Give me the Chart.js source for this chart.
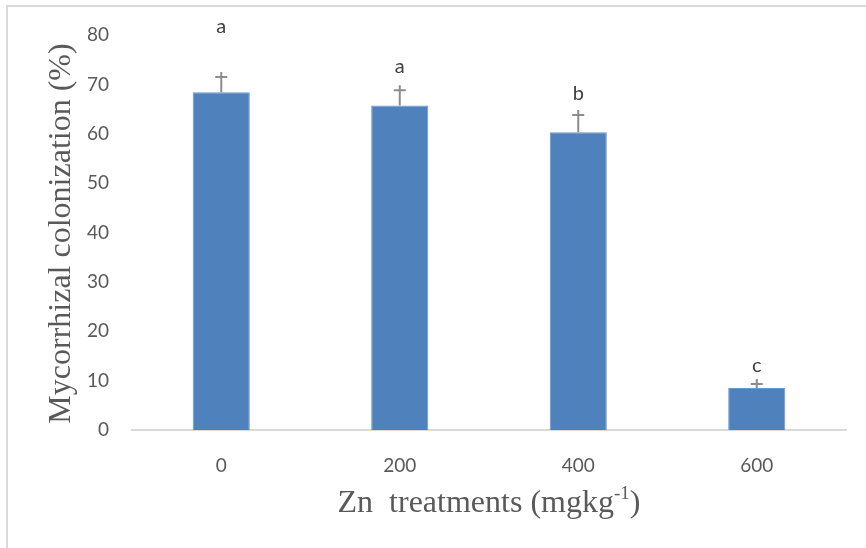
<!DOCTYPE html>
<html>
<head>
<meta charset="utf-8">
<script src="https://cdn.jsdelivr.net/npm/chart.js@4"></script>
<style>
  body { margin: 0; background: #fff; }
  #wrap { position: relative; width: 866px; height: 548px; }
</style>
</head>
<body>
<div id="wrap"><canvas id="chart"></canvas></div>
<script>
// Data
const treatments = ['0', '200', '400', '600'];
const colonization = [68.4, 65.7, 60.3, 8.5];   // bar heights (%)
const errorTop = [71.5, 68.8, 63.8, 9.3];       // upper error bar caps (%)
const letters = ['a', 'a', 'b', 'c'];           // significance letters
const letterLevel = [81.7, 73.6, 68.1, 13.0];   // where the letters sit (%)
const yMin = 0, yMax = 80, yStep = 10;

const TEXT = '#595959';

// light grey frame, only top and left edges visible in the reference
const framePlugin = {
    id: 'frame',
    beforeDraw(chart) {
        const ctx = chart.ctx;
        ctx.save();
        ctx.fillStyle = '#ffffff';
        ctx.fillRect(0, 0, chart.width, chart.height);
        ctx.strokeStyle = '#d9d9d9';
        ctx.lineWidth = 2;
        ctx.beginPath();
        ctx.moveTo(7, chart.height);
        ctx.lineTo(7, 6);
        ctx.lineTo(chart.width, 6);
        ctx.stroke();
        ctx.restore();
    }
};

// upper-only error bars plus letters
const errorPlugin = {
    id: 'errorBars',
    afterDatasetsDraw(chart) {
        const ctx = chart.ctx;
        const y = chart.scales.y;
        const meta = chart.getDatasetMeta(0);
        ctx.save();
        meta.data.forEach((bar, i) => {
            const top = y.getPixelForValue(colonization[i]);
            const cap = y.getPixelForValue(errorTop[i]);
            ctx.strokeStyle = '#8c8c8c';
            ctx.lineWidth = 2;
            ctx.beginPath();
            ctx.moveTo(bar.x, top);
            ctx.lineTo(bar.x, cap - 5);
            ctx.moveTo(bar.x - 6, cap);
            ctx.lineTo(bar.x + 6, cap);
            ctx.stroke();

            ctx.fillStyle = '#404040';
            ctx.font = '20px Lato';
            ctx.textAlign = 'center';
            ctx.textBaseline = 'middle';
            ctx.fillText(letters[i], bar.x, y.getPixelForValue(letterLevel[i]));
        });
        ctx.restore();
    }
};

// axis titles in a serif face, x title has a superscript
const titlePlugin = {
    id: 'titles',
    afterDraw(chart) {
        const ctx = chart.ctx;
        const area = chart.chartArea;
        ctx.save();
        ctx.fillStyle = TEXT;
        ctx.textBaseline = 'alphabetic';

        // y title
        ctx.save();
        ctx.translate(70, (area.top + area.bottom) / 2 + 1);
        ctx.rotate(-Math.PI / 2);
        ctx.font = '32px "Liberation Serif"';
        ctx.textAlign = 'center';
        ctx.fillText('Mycorrhizal colonization (%)', 0, 0);
        ctx.restore();

        // x title
        const main = 'Zn  treatments (mgkg';
        const sup = '-1';
        const close = ')';
        ctx.font = '32px "Liberation Serif"';
        const wMain = ctx.measureText(main).width;
        const wClose = ctx.measureText(close).width;
        ctx.font = '19px "Liberation Serif"';
        const wSup = ctx.measureText(sup).width;
        const total = wMain + wSup + wClose;
        let x = 489 - total / 2;
        const base = 512;
        ctx.textAlign = 'left';
        ctx.font = '32px "Liberation Serif"';
        ctx.fillText(main, x, base);
        x += wMain;
        ctx.font = '19px "Liberation Serif"';
        ctx.fillText(sup, x, base - 13);
        x += wSup;
        ctx.font = '32px "Liberation Serif"';
        ctx.fillText(close, x, base);
        ctx.restore();
    }
};

new Chart(document.getElementById('chart'), {
    type: 'bar',
    data: {
        labels: treatments,
        datasets: [{
            data: colonization,
            backgroundColor: '#4f81bd',
            borderColor: '#6a96cc',
            borderWidth: 1,
            categoryPercentage: 1,
            barPercentage: 0.32
        }]
    },
    options: {
        responsive: true,
        maintainAspectRatio: false,
        animation: false,
        layout: {
            padding: { top: 35, right: 20, left: 0, bottom: 0 }
        },
        plugins: {
            legend: { display: false },
            tooltip: { enabled: false }
        },
        scales: {
            x: {
                grid: { display: false, drawTicks: false },
                border: { display: true, color: '#d9d9d9', width: 2 },
                ticks: {
                    color: TEXT,
                    padding: 24,
                    font: { family: 'Lato', size: 19 }
                },
                afterFit(scale) { scale.height = 118; }
            },
            y: {
                min: yMin,
                max: yMax,
                grid: { display: false, drawTicks: false },
                border: { display: false },
                ticks: {
                    stepSize: yStep,
                    color: TEXT,
                    padding: 23,
                    font: { family: 'Lato', size: 19 }
                },
                afterFit(scale) { scale.width = 132; }
            }
        }
    },
    plugins: [framePlugin, errorPlugin, titlePlugin]
});
</script>
</body>
</html>
